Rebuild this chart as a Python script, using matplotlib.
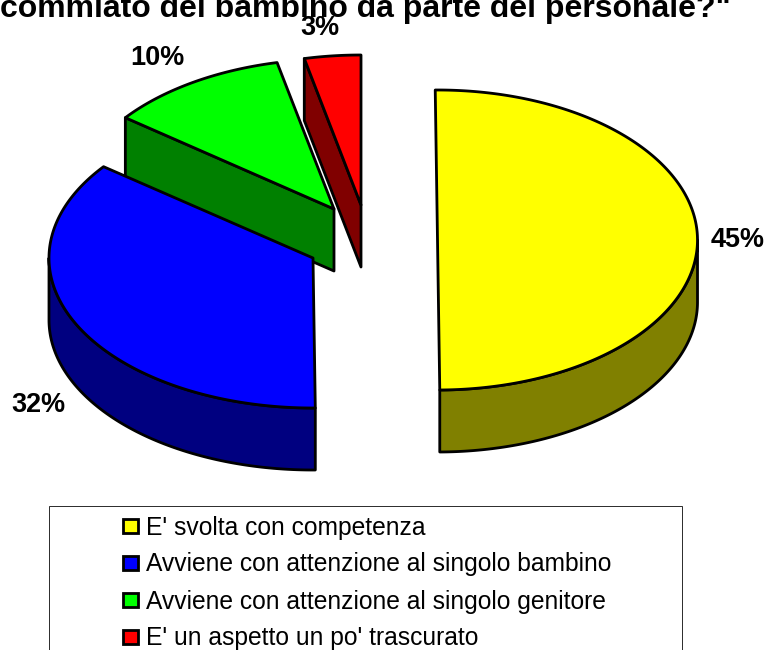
import numpy as np
import matplotlib
matplotlib.use("Agg")
import matplotlib.pyplot as plt
from matplotlib.patches import Polygon, Rectangle

plt.rcParams['font.family'] = ['Liberation Sans', 'DejaVu Sans']

categories = ["E' svolta con competenza",
              "Avviene con attenzione al singolo bambino",
              "Avviene con attenzione al singolo genitore",
              "E' un aspetto un po' trascurato"]
values = [45, 32, 10, 3]
value_labels = ["45%", "32%", "10%", "3%"]
title = 'commiato del bambino da parte del personale?"'

top_colors = ["#ffff00", "#0000ff", "#00ff00", "#ff0000"]
side_colors = ["#808000", "#000080", "#008000", "#800000"]
centers = [(437.5, 240), (313, 258), (334, 209), (361, 205)]
radii = [260, 264, 263, 262]
label_pos = [(738, 240), (38, 405), (157, 58), (320, 28)]

RY, DEPTH = 150, 62
START = -0.5
PX = 0.72  # points per pixel at dpi=100

fig = plt.figure(figsize=(7.69, 6.5), dpi=100)
ax = fig.add_axes([0, 0, 1, 1])
ax.set_xlim(0, 769)
ax.set_ylim(650, 0)
ax.axis("off")


def rim(c, rx, t0, t1, dy=0):
    t = np.radians(np.linspace(t0, t1, max(int(abs(t1 - t0)) * 2, 2)))
    return np.column_stack([c[0] + rx * np.sin(t), c[1] - RY * np.cos(t) + dy])


angles = np.cumsum([0] + values) / sum(values) * 360 + START
angles[-1] = 360  # last cut is seen exactly edge-on
style = dict(edgecolor="black", linewidth=2.8 * PX, joinstyle="round")

for i in range(len(values) - 1, -1, -1):
    c, rx, t0, t1 = centers[i], radii[i], angles[i], angles[i + 1]
    # cut face on the start side, visible for slices on the back-left
    if 180 < t0 < 360:
        p = rim(c, rx, t0, t0)[0]
        face = [p, (p[0], p[1] + DEPTH), (c[0], c[1] + DEPTH), c]
        ax.add_patch(Polygon(face, closed=True, facecolor=side_colors[i], **style))
    # outer wall, visible between 90 and 270 degrees
    a, b = max(t0, 90), min(t1, 270)
    if a < b:
        wall = np.vstack([rim(c, rx, a, b), rim(c, rx, b, a, DEPTH)])
        ax.add_patch(Polygon(wall, closed=True, facecolor=side_colors[i], **style))
    top = np.vstack([[c], rim(c, rx, t0, t1)])
    ax.add_patch(Polygon(top, closed=True, facecolor=top_colors[i], **style))

for (x, y), s in zip(label_pos, value_labels):
    ax.text(x, y, s, ha="center", va="center", fontsize=27 * PX, fontweight="bold")

ax.text(365, 16.5, title, ha="center", va="baseline", fontsize=32 * PX, fontweight="bold")

# legend box runs past the bottom of the picture
ax.add_patch(Rectangle((49, 506), 633, 170, facecolor="white", edgecolor="#303030",
                       linewidth=1 * PX))
for i, (name, col) in enumerate(zip(categories, top_colors)):
    y = 526 + i * 37
    ax.add_patch(Rectangle((123, y - 7), 15, 14, facecolor=col, edgecolor="black",
                           linewidth=2.8 * PX))
    ax.text(146, y + 1.5, name, ha="left", va="center", fontsize=24.6 * PX)

fig.savefig("out.png", dpi=100)
